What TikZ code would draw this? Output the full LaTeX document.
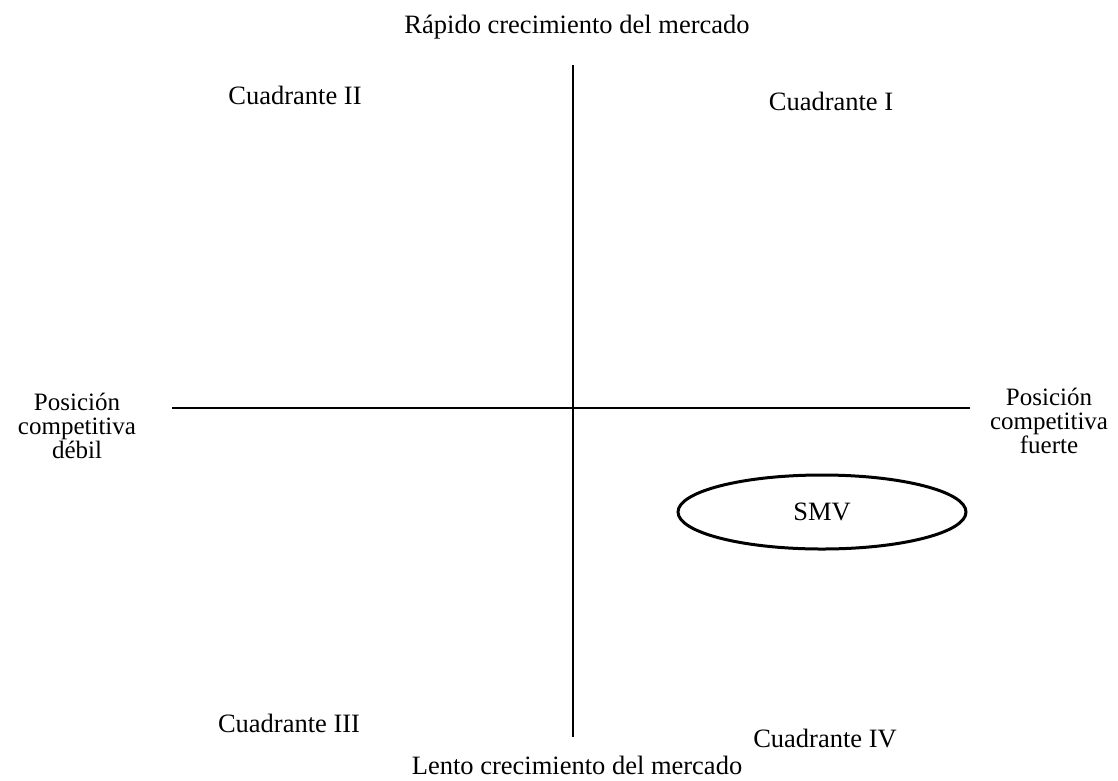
\documentclass[tikz,border=0pt]{standalone}
\usepackage{fontspec}
\setmainfont{Liberation Serif}
\usetikzlibrary{shapes.geometric}
\begin{document}
\begin{tikzpicture}[x=1pt,y=-1pt,
  lbl/.style={font=\fontsize{26.5}{22}\selectfont, inner sep=0pt, align=center},
  side/.style={lbl, font=\fontsize{25}{24}\selectfont},
  axis/.style={line width=1.3pt},
  oval/.style={draw, ellipse, line width=3pt, minimum width=288pt, minimum height=74pt, inner sep=0pt}]
\useasboundingbox (0,0) rectangle (1118,780);
\coordinate (vt) at (573,65);
\coordinate (vb) at (573,737);
\coordinate (hl) at (172,408);
\coordinate (hr) at (970,408);
\draw[axis] (vt) -- (vb);
\draw[axis] (hl) -- (hr);
\node[lbl] (top) at (577,27) {Rápido crecimiento del mercado};
\node[lbl] (bot) at (577,765) {Lento crecimiento del mercado};
\node[lbl] (q2) at (295,95) {Cuadrante II};
\node[lbl] (q1) at (831,101) {Cuadrante I};
\node[lbl] (q3) at (289,723) {Cuadrante III};
\node[lbl] (q4) at (825,738) {Cuadrante IV};
\node[side] (left) at (77,426) {Posición\\competitiva\\débil};
\node[side] (right) at (1049,421) {Posición\\competitiva\\fuerte};
\node[oval, lbl] (smv) at (822,512) {SMV};
\end{tikzpicture}
\end{document}
